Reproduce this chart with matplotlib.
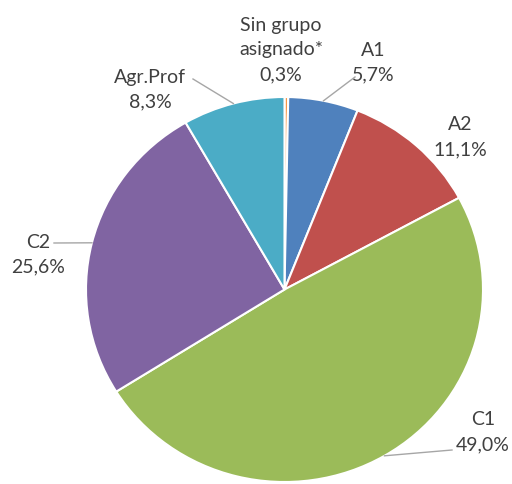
import numpy as np
import matplotlib
matplotlib.use("Agg")
import matplotlib.pyplot as plt

# Data
categories = ["Sin grupo\nasignado*", "A1", "A2", "C1", "C2", "Agr.Prof"]
values = [0.3, 5.7, 11.1, 49.0, 25.6, 8.3]
value_labels = ["0,3%", "5,7%", "11,1%", "49,0%", "25,6%", "8,3%"]

# Styles
colors = ["#F79646", "#4F81BD", "#C0504D", "#9BBB59", "#8064A2", "#4BACC6"]
# label centre positions in image pixels (x, y of first line)
label_pos = [(281, 25), (373, 50), (460, 125), (483, 420), (38, 242), (150, 77)]
# leader line end (image pixels), None = no leader
leader_end = [None, (355, 78), None, (452, 451), (54, 244), (193, 80)]

W, H = 512, 485
fig = plt.figure(figsize=(W / 100, H / 100), dpi=100)
# pie bounding box in image pixels
x0, x1, y0, y1 = 86, 483, 98, 483
ax = fig.add_axes([x0 / W, (H - y1) / H, (x1 - x0) / W, (y1 - y0) / H])
wedges, _ = ax.pie(values, colors=colors, startangle=90, counterclock=False,
                   radius=1.0, wedgeprops=dict(edgecolor="white", linewidth=1.5))
ax.set_xlim(-1, 1)
ax.set_ylim(-1, 1)
ax.set_aspect("auto")
ax.axis("off")

cx, cy = (x0 + x1) / 2, (y0 + y1) / 2
sx, sy = (x1 - x0) / 2, (y1 - y0) / 2


def px2data(px, py):
    return (px - cx) / sx, (cy - py) / sy


font = dict(family=["Lato", "DejaVu Sans"], fontsize=14, color="#404040")
for i, (cat, vl) in enumerate(zip(categories, value_labels)):
    lines = cat.split("\n") + [vl]
    px, py = label_pos[i]
    for j, t in enumerate(lines):
        dx, dy = px2data(px, py + 25 * j)
        ax.text(dx, dy, t, ha="center", va="center", clip_on=False, **font)
    if leader_end[i] is not None:
        w = wedges[i]
        mid = np.deg2rad((w.theta1 + w.theta2) / 2)
        ex, ey = np.cos(mid), np.sin(mid)
        lx, ly = px2data(*leader_end[i])
        ax.plot([ex, lx], [ey, ly], color="#A6A6A6", lw=1.0, clip_on=False)

fig.savefig("out.png", dpi=100)
